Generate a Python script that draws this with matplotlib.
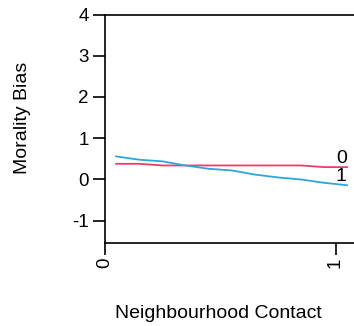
import matplotlib
matplotlib.use("Agg")
import matplotlib.pyplot as plt

plt.rcParams["font.family"] = ["Liberation Sans", "DejaVu Sans"]

# contact levels along the x axis
contact = [0.05, 0.15, 0.25, 0.35, 0.45, 0.55, 0.65, 0.75, 0.85, 0.95, 1.05]
# mean morality bias per group
bias_group0 = [0.38, 0.38, 0.34, 0.34, 0.34, 0.34, 0.34, 0.34, 0.34, 0.30, 0.30]
bias_group1 = [0.56, 0.48, 0.44, 0.34, 0.26, 0.22, 0.12, 0.05, 0.00, -0.08, -0.14]
group_labels = ["0", "1"]
y_ticks = [-1, 0, 1, 2, 3, 4]
x_ticks = [0, 1]

W, H = 354, 326
fig = plt.figure(figsize=(W / 100, H / 100), dpi=100)
px_per_unit = 231
ax = fig.add_axes([104.5 / W, (H - 243) / H, 1.1 * px_per_unit / W, (243 - 14.5) / H])

colors = ["#E93F66", "#2AA6DF"]
for ys, col, lab in zip([bias_group0, bias_group1], colors, group_labels):
    ax.plot(contact, ys, color=col, lw=1.3, solid_joinstyle="round")
    ax.text(contact[-1] - 0.025, ys[-1], lab, ha="center", va="bottom", fontsize=14)

ax.set_xlim(0, 1.1)
ax.set_ylim(-1.54, 4.0)
ax.set_yticks(y_ticks)
ax.set_yticklabels([str(t) for t in y_ticks])
ax.set_xticks(x_ticks)
ax.set_xticklabels([str(t) for t in x_ticks], rotation=90)

ax.spines["right"].set_visible(False)
for s in ["left", "bottom", "top"]:
    ax.spines[s].set_linewidth(1.2)
ax.tick_params(axis="both", direction="out", length=8.8, width=1.2, labelsize=13.5)
ax.tick_params(axis="y", pad=2.5)
ax.tick_params(axis="x", pad=1.5)

fig.text(23 / W, 1 - 117.5 / H, "Morality Bias", rotation=90, ha="center", va="center", fontsize=14)
fig.text(218 / W, 1 - 313 / H, "Neighbourhood Contact", ha="center", va="center", fontsize=14)

fig.savefig("out.png", dpi=100)
